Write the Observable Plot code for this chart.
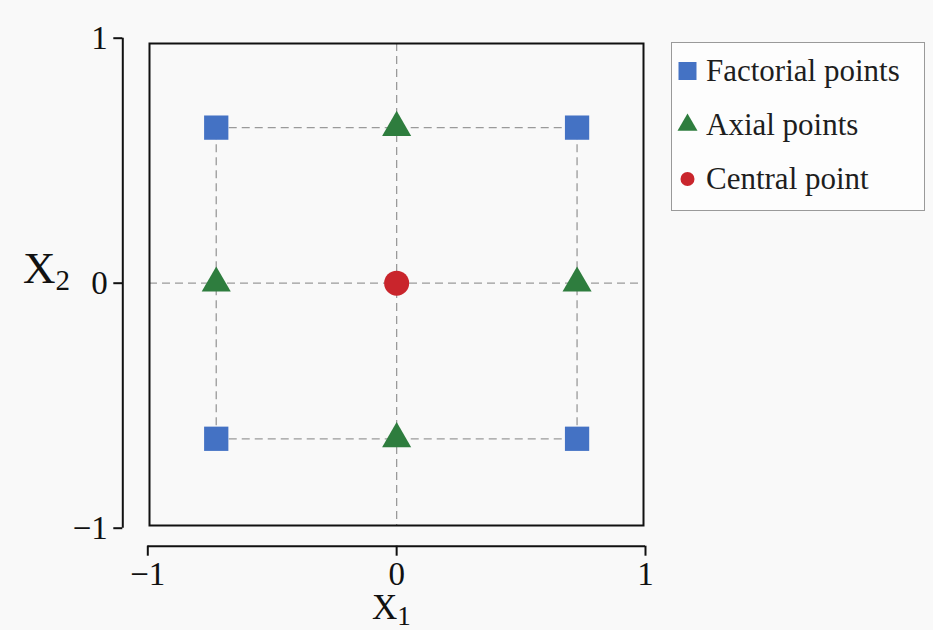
<!DOCTYPE html>
<html>
<head>
<meta charset="utf-8">
<script src="https://cdn.jsdelivr.net/npm/d3@7"></script>
<script src="https://cdn.jsdelivr.net/npm/@observablehq/plot@0.6"></script>
<style>
  body { margin: 0; background: #f9f9f9; }
  #chart { position: relative; width: 933px; height: 630px; }
  #chart > svg { position: absolute; left: 0; top: 0; }
  .legend {
    position: absolute; left: 671px; top: 42px; width: 254px; height: 169px;
    box-sizing: border-box; border: 1.5px solid #9a9a9a; background: #fdfdfd;
    font-family: "Liberation Serif", serif; font-size: 31px; color: #1e1e1e;
    padding-top: 1px;
  }
  .legend .row { height: 54px; display: flex; align-items: center; white-space: nowrap; }
  .legend svg { flex: none; }
</style>
</head>
<body>
<div id="chart"></div>
<script>
// Central composite design in two coded factors
const factorialX = [-0.725, 0.725, -0.725, 0.725];
const factorialY = [0.635, 0.635, -0.635, -0.635];
const axialX = [0, -0.725, 0.725, 0];
const axialY = [0.635, 0, 0, -0.635];
const centralX = [0];
const centralY = [0];
const tickValues = [-1, 0, 1];

const seriesNames = ["Factorial points", "Axial points", "Central point"];
const seriesColors = ["#4472c4", "#2e7d3e", "#c9252c"];
const seriesSymbols = ["square", "triangle", "circle"];

const toPoints = (xs, ys) => xs.map((x, i) => ({x, y: ys[i]}));
const factorial = toPoints(factorialX, factorialY);
const axial = toPoints(axialX, axialY);
const central = toPoints(centralX, centralY);

// dashed guides joining the factorial corners
const rowsY = [...new Set(factorialY)];
const colsX = [...new Set(factorialX)];
const hEdges = rowsY.map(y => ({y, x1: d3.min(factorialX), x2: d3.max(factorialX)}));
const vEdges = colsX.map(x => ({x, y1: d3.min(factorialY), y2: d3.max(factorialY)}));

const ink = "#111";
const dash = {stroke: "#9a9a9a", strokeWidth: 1.3, strokeDasharray: "8,5"};
const intFormat = d3.format("d");

const svg = Plot.plot({
  width: 933,
  height: 630,
  marginLeft: 149,
  marginRight: 290,
  marginTop: 43,
  marginBottom: 105,
  x: {domain: [-1, 1], range: [147.3, 645]},
  y: {domain: [-1, 1], range: [527.7, 37.7]},
  style: {background: "transparent", fontFamily: "'Liberation Serif', serif", color: ink},
  marks: [
    Plot.ruleY(centralY, dash),
    Plot.ruleX(centralX, dash),
    Plot.ruleY(hEdges, {y: "y", x1: "x1", x2: "x2", ...dash}),
    Plot.ruleX(vEdges, {x: "x", y1: "y1", y2: "y2", ...dash}),
    Plot.frame({stroke: ink, strokeWidth: 2}),
    Plot.dot(factorial, {x: "x", y: "y", symbol: "square", r: 13.7, fill: seriesColors[0]}),
    Plot.dot(axial, {x: "x", y: "y", symbol: "triangle", r: 10.8, fill: seriesColors[1]}),
    Plot.dot(central, {x: "x", y: "y", symbol: "circle", r: 12.5, fill: seriesColors[2]}),
    // offset axis lines
    Plot.ruleY([-1], {x1: -1, x2: 1, dy: 18, stroke: ink, strokeWidth: 2}),
    Plot.ruleX([-1], {y1: -1, y2: 1, dx: -25, stroke: ink, strokeWidth: 2}),
    Plot.axisX(tickValues, {anchor: "bottom", tickSize: 10, tickPadding: 5, dy: 20.7,
      fontSize: 33, strokeWidth: 2, label: null, tickFormat: intFormat}),
    Plot.axisY(tickValues, {anchor: "left", tickSize: 9, tickPadding: 6, dx: -26.7,
      fontSize: 33, strokeWidth: 2, label: null, tickFormat: intFormat})
  ]
});

// tick labels in the serif face at full size
const root = d3.select(svg);
root.selectAll("g[aria-label$='tick label']")
  .style("font-size", "33px")
  .style("font-family", "'Liberation Serif', serif");

// axis titles with subscripts
function subscriptLabel(x, y, main, sub, size, subSize, shift) {
  const t = root.append("text")
    .attr("x", x).attr("y", y)
    .attr("text-anchor", "start")
    .attr("font-family", "'Liberation Serif', serif")
    .attr("font-size", size)
    .attr("fill", ink);
  t.append("tspan").text(main);
  t.append("tspan").attr("font-size", subSize).attr("dy", shift).text(sub);
}
subscriptLabel(23, 283, "X", "2", 45, 29, 7);
subscriptLabel(372, 619, "X", "1", 35, 27, 6);

const chart = document.getElementById("chart");
chart.appendChild(svg);

// legend
const legend = d3.select(chart).append("div").attr("class", "legend");
const symbolArea = {square: 18 * 18, triangle: Math.sqrt(3) / 4 * 20 * 20, circle: Math.PI * 7 * 7};
const symbolType = {square: d3.symbolSquare, triangle: d3.symbolTriangle, circle: d3.symbolCircle};
seriesNames.forEach((name, i) => {
  const row = legend.append("div").attr("class", "row");
  const s = row.append("svg").attr("width", 34).attr("height", 24);
  s.append("path")
    .attr("transform", "translate(15.5,12)")
    .attr("d", d3.symbol(symbolType[seriesSymbols[i]], symbolArea[seriesSymbols[i]])())
    .attr("fill", seriesColors[i]);
  row.append("span").text(name);
});
</script>
</body>
</html>
